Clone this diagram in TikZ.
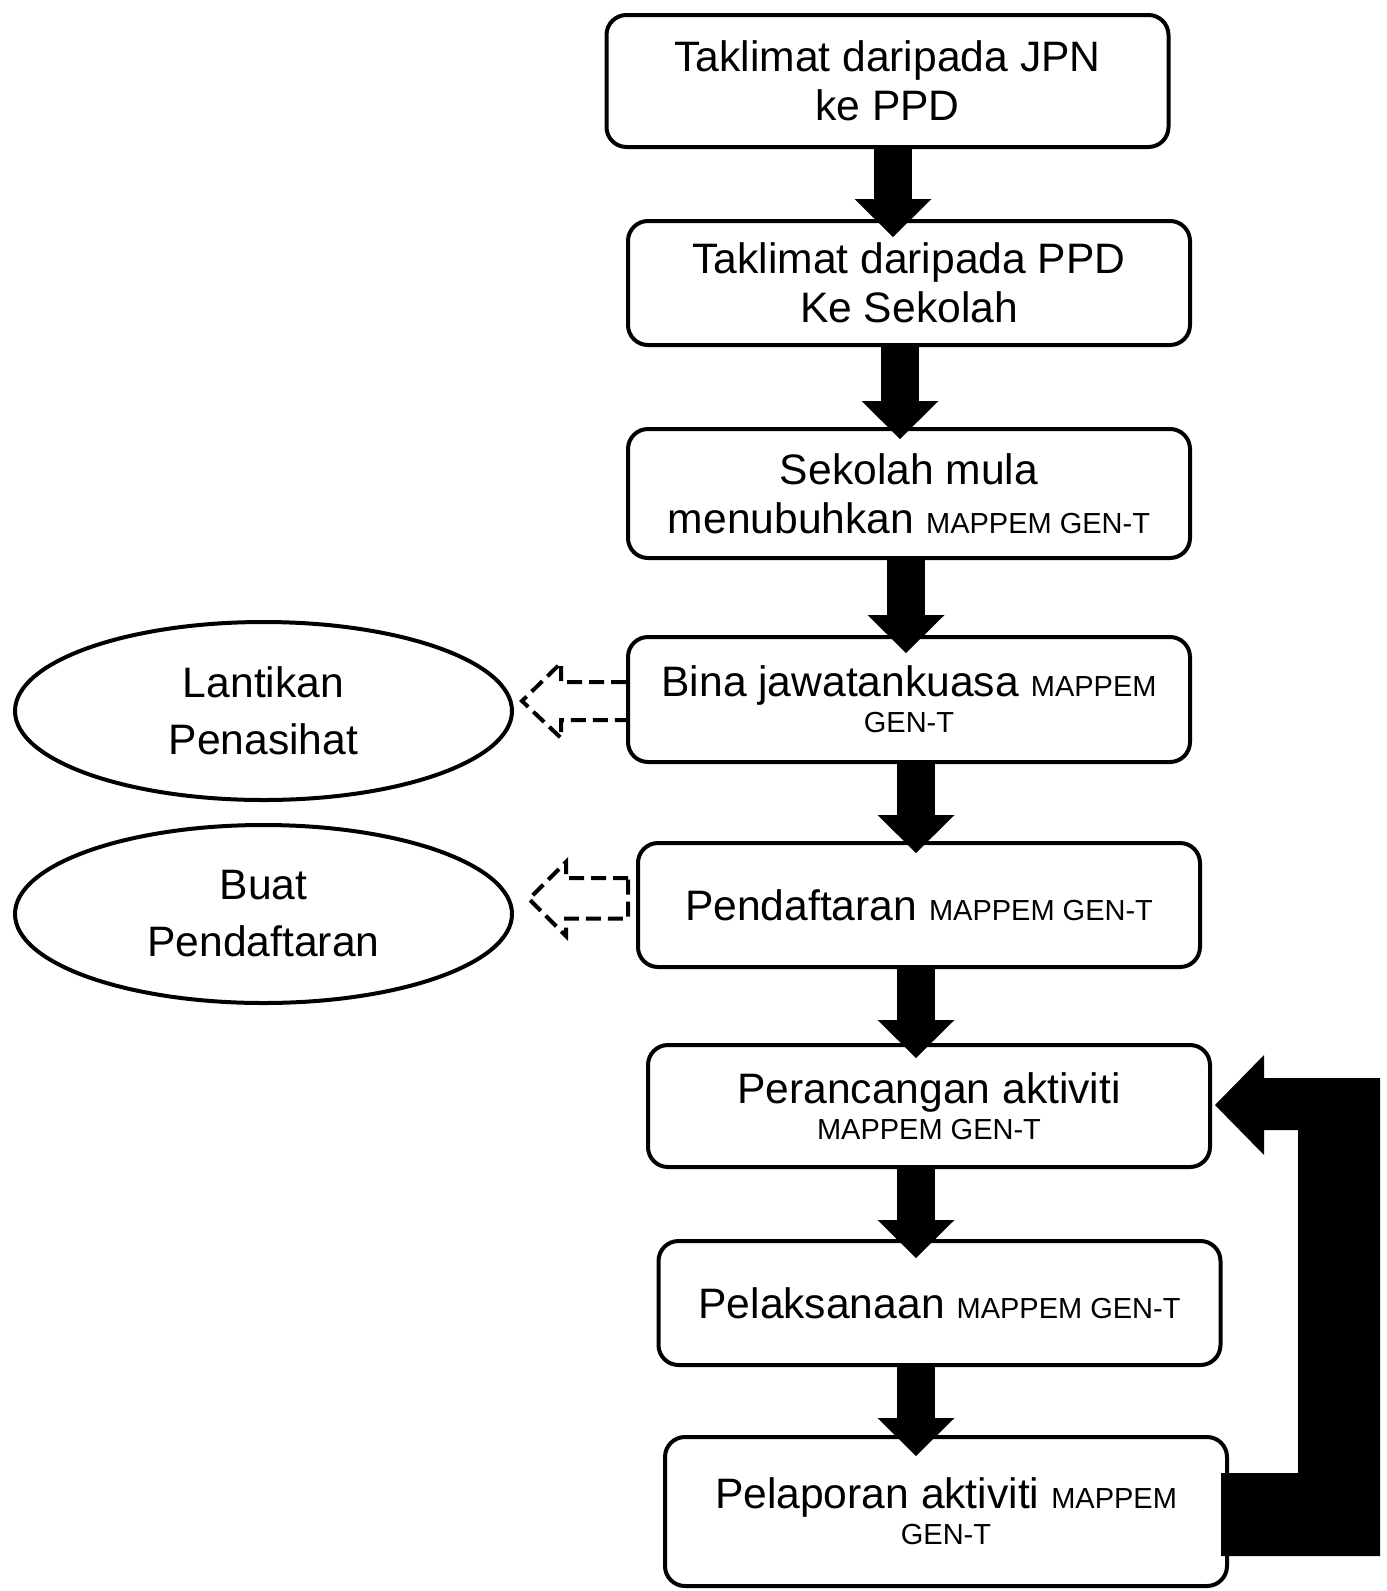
\documentclass[tikz,border=0pt]{standalone}
\usepackage{fontspec}
\setmainfont{Liberation Sans}
\usetikzlibrary{arrows.meta,calc,shapes.geometric}
\newcommand{\smalltxt}[1]{{\fontsize{14.5pt}{16pt}\selectfont #1}}

\begin{document}
\begin{tikzpicture}[x=0.5pt, y=-0.5pt, line width=2pt,
    font=\fontsize{21.3pt}{24.5pt}\selectfont,
    stepbox/.style={draw, rounded corners=10pt, minimum width=281pt, align=center, inner sep=0pt},
    oval/.style={draw, ellipse, minimum width=248.5pt, minimum height=89pt, align=center, inner sep=0pt},
    flow/.style={line width=19pt, -{Triangle[length=19pt, width=38.5pt, line width=0pt]}},
    hollow/.style={dash pattern=on 7.5pt off 3.5pt, line width=2pt},
    loopback/.style={fill=black}]
    \useasboundingbox (0,0) rectangle (1387,1591);

    \node[stepbox, minimum height=66pt] (jpn) at (887.5,81) {Taklimat daripada JPN\\ke PPD};
    \node[stepbox, minimum height=62pt] (ppd) at (909,283) {Taklimat daripada PPD\\Ke Sekolah};
    \node[stepbox, minimum height=64.5pt] (mula) at (909,493.5) {Sekolah mula\\menubuhkan \smalltxt{MAPPEM GEN-T}};
    \node[stepbox, minimum height=62.5pt] (bina) at (909,699.5) {Bina jawatankuasa \smalltxt{MAPPEM}\\[-6.5pt]\smalltxt{GEN-T}};
    \node[stepbox, minimum height=62pt] (daftar) at (919,905) {Pendaftaran \smalltxt{MAPPEM GEN-T}};
    \node[stepbox, minimum height=61pt] (rancang) at (929,1106) {Perancangan aktiviti\\[-6.5pt]\smalltxt{MAPPEM GEN-T}};
    \node[stepbox, minimum height=62pt] (laksana) at (939.5,1303) {Pelaksanaan \smalltxt{MAPPEM GEN-T}};
    \node[stepbox, minimum height=74.5pt] (lapor) at (946,1511.5) {Pelaporan aktiviti \smalltxt{MAPPEM}\\[-6.5pt]\smalltxt{GEN-T}};

    \node[oval] (lantik) at (263.5,711) {Lantikan\\[4pt]Penasihat};
    \node[oval] (buat) at (263.5,914) {Buat\\[4pt]Pendaftaran};

    % main flow
    \draw[flow] ($(jpn.south)+(5.5,0)$) -- ($(ppd.north)+(-16,18)$);
    \draw[flow] ($(ppd.south)+(-9,0)$) -- ($(mula.north)+(-9,12)$);
    \draw[flow] ($(mula.south)+(-3,0)$) -- ($(bina.north)+(-3,18)$);
    \draw[flow] ($(bina.south)+(7,0)$) -- ($(daftar.north)+(-3,12)$);
    \draw[flow] ($(daftar.south)+(-3,0)$) -- ($(rancang.north)+(-13,15)$);
    \draw[flow] ($(rancang.south)+(-13,0)$) -- ($(laksana.north)+(-23.5,19)$);
    \draw[flow] ($(laksana.south)+(-23.5,0)$) -- ($(lapor.north)+(-30,21)$);

    % side arrows to the ovals
    \draw[hollow] ($(bina.west)+(0,-17.5)$) -- ++(-65,0) -- ++(0,-19) -- ++(-39,38)
        -- ++(39,37) -- ++(0,-18) -- ++(65,0);
    \draw[hollow] ($(daftar.west)+(-8,-27)$) -- ++(-62,0) -- ++(0,-16) -- ++(-37,37)
        -- ++(37,37) -- ++(0,-17.5) -- ++(62,0) -- cycle;

    % back to planning
    \fill[loopback] ($(lapor.east)+(-8,-38.5)$) -- ++(77,0) |- ($(rancang.east)+(52,24)$)
        -- ++(0,25) -- ($(rancang.east)+(3,-1)$) -- ++(49,-50) -- ++(0,23) -- ++(116,0)
        |- ($(lapor.east)+(-8,44.5)$) -- cycle;
\end{tikzpicture}
\end{document}
